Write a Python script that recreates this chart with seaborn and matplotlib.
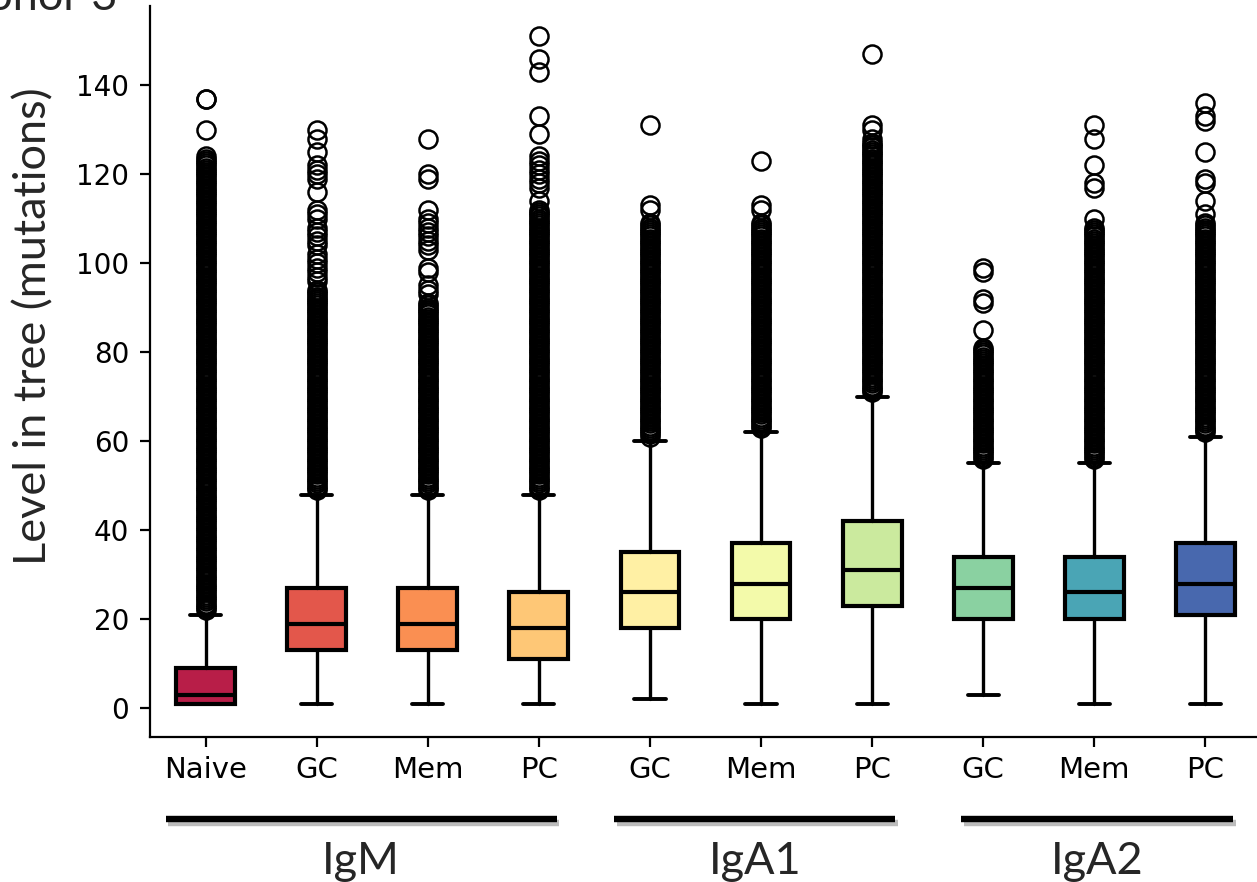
import numpy as np
import matplotlib
matplotlib.use("Agg")
import matplotlib.pyplot as plt
import matplotlib.patheffects as pe
from matplotlib.transforms import blended_transform_factory
import seaborn as sns

# ---- data -------------------------------------------------------------
cell_types = ["Naive", "GC", "Mem", "PC", "GC", "Mem", "PC", "GC", "Mem", "PC"]
isotypes = ["IgM", "IgA1", "IgA2"]

whisker_low = [1, 1, 1, 1, 2, 1, 1, 3, 1, 1]
q1 = [1, 13, 13, 11, 18, 20, 23, 20, 20, 21]
median = [3, 19, 19, 18, 26, 28, 31, 27, 26, 28]
q3 = [9, 27, 27, 26, 35, 37, 42, 34, 34, 37]
whisker_high = [21, 48, 48, 48, 60, 62, 70, 55, 55, 61]

# outliers fill a continuous band from just above the upper whisker
# up to this level (levels are recorded in half-mutation steps),
# plus the scattered ones listed separately
dense_outlier_top = [124, 94, 91, 112, 109, 109, 127, 81, 108, 109]
sparse_outliers = [
    [130, 137, 137],
    [96, 97, 98, 99, 100, 101, 102, 104, 105, 106, 107, 108, 110, 111, 112,
     116, 119, 120, 121, 122, 125, 128, 130],
    [93, 94, 95, 98, 99, 103, 104, 105, 106, 107, 108, 109, 110, 112, 119,
     120, 128],
    [114, 117, 118, 119, 120, 121, 122, 123, 124, 129, 133, 143, 146, 151],
    [112, 113, 131],
    [112, 113, 123],
    [128, 130, 131, 147],
    [85, 91, 92, 98, 99],
    [110, 117, 118, 122, 128, 131],
    [111, 114, 118, 119, 125, 132, 133, 136],
]
level_step = 0.5

box_colors = ["#b81e48", "#e3574b", "#fa8f52", "#fec776", "#fff0a4",
              "#f3faaa", "#cbea9e", "#8ad1a1", "#4aa5b5", "#4868ae"]

# ---- layout -----------------------------------------------------------
W, H = 1257, 882
group_spans = [(-0.36, 3.16), (3.68, 6.21), (6.80, 9.25)]
label_font = ["Lato", "DejaVu Sans"]

sns.set_style("ticks")
plt.rcParams["font.family"] = ["DejaVu Sans"]

fig = plt.figure(figsize=(W / 100, H / 100), dpi=100)
ax = fig.add_axes([150 / W, 145 / H, 1111 / W, 731 / H])

stats = []
for i in range(len(cell_types)):
    band = np.arange(whisker_high[i] + 1, dense_outlier_top[i] + level_step / 2,
                     level_step)
    fl = np.concatenate([band, np.array(sparse_outliers[i], dtype=float)])
    stats.append(dict(med=median[i], q1=q1[i], q3=q3[i],
                      whislo=whisker_low[i], whishi=whisker_high[i],
                      fliers=fl))

bp = ax.bxp(stats, positions=np.arange(len(cell_types)), widths=0.53,
            capwidths=0.28, patch_artist=True, showfliers=True,
            boxprops=dict(linewidth=3.0, edgecolor="black"),
            medianprops=dict(color="black", linewidth=3.0),
            whiskerprops=dict(color="black", linewidth=2.4),
            capprops=dict(color="black", linewidth=2.8),
            flierprops=dict(marker="o", markersize=13, markerfacecolor="none",
                            markeredgecolor="black", markeredgewidth=1.8))
for patch, c in zip(bp["boxes"], box_colors):
    patch.set_facecolor(c)

ax.set_xlim(-0.5, 9.5)
ax.set_ylim(-6.5, 157.8)
ax.set_yticks(np.arange(0, 141, 20))
ax.set_xticks(np.arange(len(cell_types)))
ax.set_xticklabels(cell_types)
sns.despine(ax=ax)
for s in ("left", "bottom"):
    ax.spines[s].set_linewidth(1.6)
    ax.spines[s].set_color("black")
ax.tick_params(axis="both", length=7, width=1.6, color="black",
               labelcolor="black")
ax.tick_params(axis="y", pad=8, labelsize=20)
ax.tick_params(axis="x", pad=7, labelsize=21)

fig.text(34 / W, (H - 326) / H, "Level in tree (mutations)", rotation=90,
         ha="center", va="center", fontsize=32.5, family=label_font)
fig.text(117 / W, (H - 10) / H, "Donor 3", ha="right", va="baseline",
         fontsize=32.5, family=label_font)

# isotype group bars with labels underneath
trans = blended_transform_factory(ax.transData, fig.transFigure)
line_y = (H - 819) / H
for name, (x0, x1) in zip(isotypes, group_spans):
    ax.plot([x0, x1], [line_y, line_y], transform=trans, color="black",
            lw=4.6, solid_capstyle="butt", clip_on=False,
            path_effects=[pe.SimpleLineShadow(offset=(2, -3),
                                              shadow_color="0.35", alpha=0.4),
                          pe.Normal()])
    ax.text((x0 + x1) / 2, (H - 874) / H, name, transform=trans,
            ha="center", va="baseline", fontsize=32.5, family=label_font)

fig.savefig("out.png", dpi=100)
